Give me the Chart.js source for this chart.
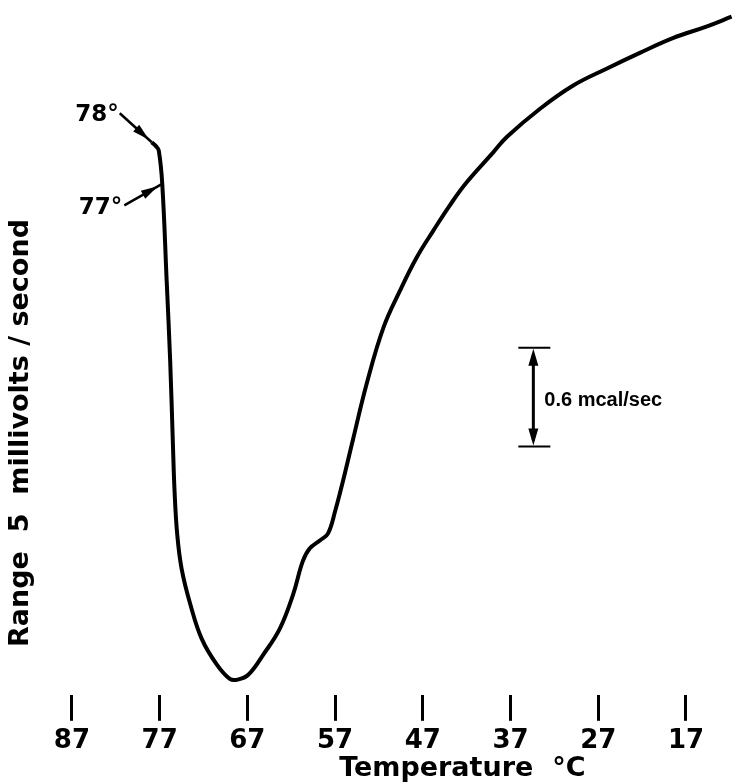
<!DOCTYPE html>
<html>
<head>
<meta charset="utf-8">
<script src="https://cdn.jsdelivr.net/npm/chart.js@4.4.1/dist/chart.umd.min.js"></script>
<style>
  html, body { margin: 0; padding: 0; background: #fff; }
</style>
</head>
<body>
<canvas id="chart" width="743" height="784"></canvas>
<script>
// thermogram trace (temperature in degC, signal in arbitrary units)
const temps = [77.9, 77.4, 77.1, 76.7, 76.2, 75.8, 75.5, 75.3, 75.0, 74.5,
  73.5, 72.2, 70.5, 69.0, 68.1, 66.9, 65.2, 63.3, 61.8, 60.7,
  59.9, 58.7, 57.8, 57.0, 56.1, 55.0, 53.4, 51.5, 49.6, 47.7,
  45.8, 43.9, 42.0, 39.0, 37.4, 33.6, 29.9, 26.0, 22.2, 18.5,
  14.6, 11.8];
const signal = [80.1, 79.5, 78.9, 74.0, 60.0, 48.4, 36.8, 29.5, 23.3, 18.3,
  13.1, 8.1, 4.4, 2.3, 2.2, 2.9, 5.8, 9.6, 14.5, 19.3,
  21.2, 22.4, 23.4, 26.6, 31.0, 36.8, 45.1, 53.2, 58.6, 63.4,
  67.3, 71.0, 74.3, 78.6, 80.9, 85.0, 88.3, 90.8, 93.1, 95.2,
  96.9, 98.3];
const tickTemps = [87, 77, 67, 57, 47, 37, 27, 17];

const xTitle = 'Temperature  \u00B0C';
const yTitle = 'Range  5  millivolts / second';
const markLabels = ['78\u00B0', '77\u00B0'];   // marked on points 0 and 3
const markIndex = [0, 3];
const barLabel = '0.6 mcal/sec';
const barTemp = 34.4;
const barRange = [36.0, 50.3];

const font = 'bold 27px "DejaVu Sans"';

function arrow(ctx, x1, y1, x2, y2) {
  ctx.beginPath();
  ctx.moveTo(x1, y1);
  ctx.lineTo(x2, y2);
  ctx.stroke();
  const a = Math.atan2(y2 - y1, x2 - x1);
  const tx = x2 - 4 * Math.cos(a), ty = y2 - 4 * Math.sin(a);
  ctx.beginPath();
  ctx.moveTo(tx, ty);
  ctx.lineTo(tx - 17 * Math.cos(a) + 4.5 * Math.sin(a), ty - 17 * Math.sin(a) - 4.5 * Math.cos(a));
  ctx.lineTo(tx - 17 * Math.cos(a) - 4.5 * Math.sin(a), ty - 17 * Math.sin(a) + 4.5 * Math.cos(a));
  ctx.closePath();
  ctx.fill();
}

const notes = {
  id: 'notes',
  afterDraw(chart) {
    const { ctx, scales: { x, y } } = chart;
    ctx.save();
    ctx.fillStyle = '#000';
    ctx.strokeStyle = '#000';

    // axis titles
    ctx.font = font;
    ctx.textAlign = 'center';
    ctx.textBaseline = 'middle';
    ctx.fillText(xTitle, x.getPixelForValue(42.5), 769);
    ctx.save();
    ctx.translate(21, 433);
    ctx.rotate(-Math.PI / 2);
    ctx.fillText(yTitle, 0, 0);
    ctx.restore();

    // temperature marks on the trace
    ctx.font = 'bold 23px "DejaVu Sans"';
    ctx.textAlign = 'right';
    ctx.textBaseline = 'alphabetic';
    ctx.lineWidth = 2.5;
    const p0x = x.getPixelForValue(temps[markIndex[0]]), p0y = y.getPixelForValue(signal[markIndex[0]]);
    ctx.fillText(markLabels[0], p0x - 33, p0y - 21);
    arrow(ctx, p0x - 32, p0y - 29, p0x, p0y);
    const p1x = x.getPixelForValue(temps[markIndex[1]]), p1y = y.getPixelForValue(signal[markIndex[1]]);
    ctx.fillText(markLabels[1], p1x - 40, p1y + 30);
    arrow(ctx, p1x - 38, p1y + 21, p1x - 1, p1y);

    // 0.6 mcal/sec scale bar
    const bx = x.getPixelForValue(barTemp);
    const top = y.getPixelForValue(barRange[1]);
    const bot = y.getPixelForValue(barRange[0]);
    ctx.lineWidth = 2;
    ctx.beginPath();
    ctx.moveTo(bx - 15, top); ctx.lineTo(bx + 17, top);
    ctx.moveTo(bx - 15, bot); ctx.lineTo(bx + 17, bot);
    ctx.stroke();
    ctx.lineWidth = 3;
    ctx.beginPath();
    ctx.moveTo(bx, top + 6); ctx.lineTo(bx, bot - 6);
    ctx.stroke();
    ctx.beginPath();
    ctx.moveTo(bx, top + 1); ctx.lineTo(bx - 5, top + 18); ctx.lineTo(bx + 5, top + 18); ctx.closePath();
    ctx.moveTo(bx, bot - 1); ctx.lineTo(bx - 5, bot - 18); ctx.lineTo(bx + 5, bot - 18); ctx.closePath();
    ctx.fill();
    ctx.font = 'bold 20px "Liberation Sans"';
    ctx.textAlign = 'left';
    ctx.textBaseline = 'middle';
    ctx.fillText(barLabel, bx + 11, (top + bot) / 2 + 3);
    ctx.restore();
  }
};

new Chart(document.getElementById('chart'), {
  type: 'line',
  data: {
    datasets: [{
      data: temps.map((t, i) => ({ x: t, y: signal[i] })),
      borderColor: '#000',
      borderWidth: 4,
      pointRadius: 0,
      tension: 0.4,
      fill: false
    }]
  },
  options: {
    responsive: false,
    animation: false,
    devicePixelRatio: 1,
    layout: { padding: { top: 5, left: 0, right: 0, bottom: 22 } },
    plugins: { legend: { display: false }, tooltip: { enabled: false } },
    scales: {
      x: {
        type: 'linear',
        reverse: true,
        min: 10.5,
        max: 95.2,
        afterBuildTicks: axis => { axis.ticks = tickTemps.map(v => ({ value: v })); },
        ticks: {
          color: '#000',
          font: { family: 'DejaVu Sans', weight: 'bold', size: 26 },
          padding: 5,
          autoSkip: false,
          maxRotation: 0
        },
        grid: { drawOnChartArea: false, drawTicks: true, tickLength: 26, tickWidth: 3, tickColor: '#000' },
        border: { display: false }
      },
      y: { display: false, min: 0, max: 100 }
    }
  },
  plugins: [notes]
});
</script>
</body>
</html>
